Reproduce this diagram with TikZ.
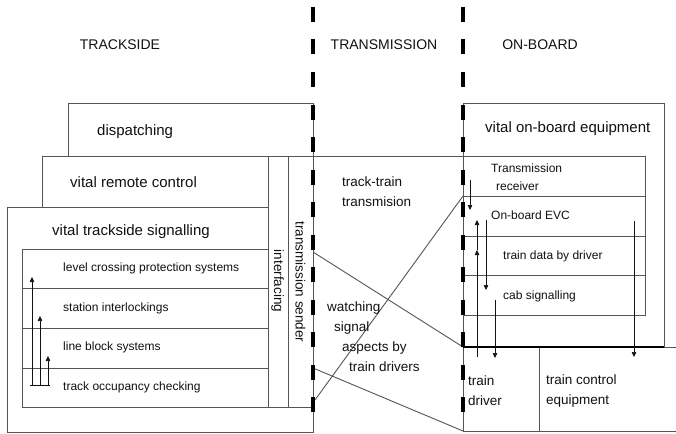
\documentclass[tikz,border=0pt]{standalone}
\usepackage{fontspec}
\setmainfont{Liberation Sans}
\usetikzlibrary{arrows.meta}
\definecolor{ln}{HTML}{555555}
\definecolor{tx}{HTML}{111111}
\begin{document}
\begin{tikzpicture}[x=1pt,y=-1pt,
  box/.style={draw=ln, line width=0.9pt, fill=white, inner sep=0pt, outer sep=0pt, anchor=north west},
  lbl/.style={text=tx, inner sep=0pt, anchor=west, align=left},
  big/.style={font=\fontsize{15}{18}\selectfont},
  mid/.style={font=\fontsize{13.5}{20}\selectfont},
  sml/.style={font=\fontsize{12}{18}\selectfont},
  hdr/.style={font=\fontsize{14}{17}\selectfont},
  conn/.style={draw=ln, line width=0.9pt},
  arr/.style={draw=tx, line width=0.6pt, -{Triangle[length=5pt,width=4.5pt]}},
  sepline/.style={draw=black, line width=3.4pt, dash pattern=on 15pt off 17.5pt},
]
\useasboundingbox (0,0) rectangle (676,433);
\fill[white] (0,0) rectangle (676,433);

% headers
\node[text=tx, hdr, inner sep=0pt] (hTS) at (120,45) {TRACKSIDE};
\node[text=tx, hdr, inner sep=0pt] (hTR) at (384,45) {TRANSMISSION};
\node[text=tx, hdr, inner sep=0pt] (hOB) at (540,45) {ON-BOARD};

% ---------- trackside ----------
\node[box, minimum width=306pt, minimum height=225pt] (sig) at (7,207) {};
\node[box, minimum width=226pt, minimum height=51pt] (rem) at (42,156) {};
\node[box, minimum width=245pt, minimum height=53pt] (disp) at (68,103) {};
\node[box, minimum width=246pt, minimum height=39pt] (lc) at (22,249) {};
\node[box, minimum width=246pt, minimum height=40pt] (si) at (22,288) {};
\node[box, minimum width=246pt, minimum height=40pt] (lb) at (22,328) {};
\node[box, minimum width=246pt, minimum height=39pt] (toc) at (22,368) {};
\node[box, minimum width=20pt, minimum height=251pt] (intf) at (268,156) {};
\node[box, minimum width=25pt, minimum height=251pt] (send) at (288,156) {};

\node[lbl, big] (tDisp) at (97,132) {dispatching};
\node[lbl, big] (tRem) at (70,182) {vital remote control};
\node[lbl, big] (tSig) at (52,232) {vital trackside signalling};
\node[lbl, sml] (tLc) at (63,268) {level crossing protection systems};
\node[lbl, sml] (tSi) at (63,308) {station interlockings};
\node[lbl, sml] (tLb) at (63,347) {line block systems};
\node[lbl, sml] (tToc) at (63,387) {track occupancy checking};
\node[text=tx, mid, inner sep=0pt, rotate=-90] (tIntf) at (277.5,281) {interfacing};
\node[text=tx, mid, inner sep=0pt, rotate=-90] (tSend) at (300.5,282) {transmission sender};

% trackside arrows
\coordinate (a0) at (30,385);
\coordinate (a4) at (50,385);
\coordinate (a1b) at (32,385);
\coordinate (a1t) at (32,277);
\coordinate (a2b) at (40,385);
\coordinate (a2t) at (40,316);
\coordinate (a3b) at (48,385);
\coordinate (a3t) at (48,356);
\draw[draw=tx, line width=0.6pt] (a0) -- (a4);
\draw[arr] (a1b) -- (a1t);
\draw[arr] (a2b) -- (a2t);
\draw[arr] (a3b) -- (a3t);

% ---------- on-board ----------
\node[box, minimum width=201pt, minimum height=244pt] (onb) at (463,103) {};
\node[box, minimum width=182pt, minimum height=40pt] (rcv) at (463,156) {};
\node[box, minimum width=182pt, minimum height=119pt] (evc) at (463,196) {};
\node[box, minimum width=182pt, minimum height=39pt] (tdd) at (463,236) {};
\node[box, minimum width=182pt, minimum height=40pt] (cab) at (463,275) {};
\node[box, minimum width=76pt, minimum height=84pt] (drv) at (463,347) {};
\node[box, draw=none, minimum width=137pt, minimum height=84pt] (tce) at (539,347) {};
\draw[conn] (tce.north east) -- (tce.north west) -- (tce.south west) -- (tce.south east);
\draw[conn] (drv.south west) -- (tce.south east);
\draw[draw=black, line width=2pt] (onb.south west) -- (onb.south east);

\node[lbl, big] (tOnb) at (485,129) {vital on-board equipment};
\node[lbl, sml] (tRcv) at (491,177) {Transmission\\\hspace*{5pt}receiver};
\node[lbl, sml] (tEvc) at (491,215) {On-board EVC};
\node[lbl, sml] (tTdd) at (503,256) {train data by driver};
\node[lbl, sml] (tCab) at (503,296) {cab signalling};
\node[lbl, mid] (tDrv) at (468,391) {train\\driver};
\node[lbl, mid] (tTce) at (546,391) {train control\\equipment};

% on-board arrows
\coordinate (r1s) at (470,180);
\coordinate (r1e) at (470,210);
\coordinate (u1s) at (477,357);
\coordinate (u1m) at (477,250);
\coordinate (u1e) at (477,220);
\coordinate (d1s) at (486,220);
\coordinate (d1e) at (486,290);
\coordinate (d2s) at (495,300);
\coordinate (d2e) at (495,358);
\coordinate (d3s) at (634,221);
\coordinate (d3e) at (634,357);
\draw[arr] (r1s) -- (r1e);
\draw[arr] (u1s) -- (u1m);
\draw[arr] (u1m) -- (u1e);
\draw[arr] (d1s) -- (d1e);
\draw[arr] (d2s) -- (d2e);
\draw[arr] (d3s) -- (d3e);

% ---------- transmission ----------
\draw[conn] (send.north east) -- (rcv.north west);
\coordinate (m1) at (313,252);
\coordinate (m2) at (313,368);
\coordinate (m3) at (315,400);
\draw[conn] (m1) -- (onb.south west);
\draw[conn] (m2) -- (drv.south west);
\draw[conn] (m3) -- (rcv.south west);

\node[lbl, mid] (tTt) at (342,192) {track-train\\transmision};
\node[lbl, mid] (tWs) at (327,336.5) {watching\\\hspace*{7pt}signal\\\hspace*{15pt}aspects by\\\hspace*{22pt}train drivers};

% separators
\coordinate (s1t) at (313,7);
\coordinate (s1b) at (313,413);
\coordinate (s2t) at (463,7);
\coordinate (s2b) at (463,413);
\draw[sepline] (s1t) -- (s1b);
\draw[sepline] (s2t) -- (s2b);
\end{tikzpicture}
\end{document}
